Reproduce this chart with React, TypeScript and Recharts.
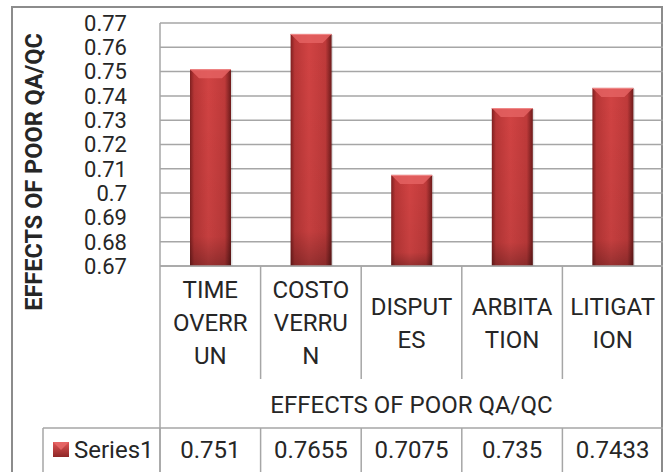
import React from "react";
import { BarChart, Bar, XAxis, YAxis, CartesianGrid } from "recharts";

const categories = ["TIME OVERRUN", "COSTOVERRUN", "DISPUTES", "ARBITATION", "LITIGATION"];
const categoryLines = [
  ["TIME", "OVERR", "UN"],
  ["COSTO", "VERRU", "N"],
  ["DISPUT", "ES"],
  ["ARBITA", "TION"],
  ["LITIGAT", "ION"],
];
const series1 = [0.751, 0.7655, 0.7075, 0.735, 0.7433];
const series1Labels = ["0.751", "0.7655", "0.7075", "0.735", "0.7433"];
const yTicks = [0.67, 0.68, 0.69, 0.7, 0.71, 0.72, 0.73, 0.74, 0.75, 0.76, 0.77];
const seriesName = "Series1";
const axisTitle = "EFFECTS OF POOR QA/QC";

const data = categories.map((name, i) => ({ name, value: series1[i] }));

const W = 669;
const H = 472;
const LEFT = 160;
const RIGHT = 6;
const TOP = 23;
const AXIS_H = 206;
const FONT = "Roboto, 'Liberation Sans', sans-serif";
const LINE = "#a6a6a6";
const TEXT = "#262626";
const bandW = (W - LEFT - RIGHT) / categories.length;

const BarShape = (props: any) => {
  const { x, y, width, height, index } = props;
  const id = `barg${index}`;
  const bev = Math.min(9, height / 2);
  return (
    <g>
      <defs>
        <linearGradient id={id} x1="0" y1="0" x2="1" y2="0">
          <stop offset="0%" stopColor="#7e2020" />
          <stop offset="10%" stopColor="#b83636" />
          <stop offset="45%" stopColor="#d14343" />
          <stop offset="85%" stopColor="#bf3a3a" />
          <stop offset="100%" stopColor="#6e1b1b" />
        </linearGradient>
        <linearGradient id={id + "v"} x1="0" y1="0" x2="0" y2="1">
          <stop offset="0%" stopColor="#000" stopOpacity={0} />
          <stop offset="85%" stopColor="#000" stopOpacity={0.06} />
          <stop offset="100%" stopColor="#000" stopOpacity={0.28} />
        </linearGradient>
      </defs>
      <rect x={x + 1.5} y={y + 1} width={width} height={height} fill="#000" opacity={0.12} />
      <rect x={x} y={y} width={width} height={height} fill={`url(#${id})`} />
      <rect x={x} y={y} width={width} height={height} fill={`url(#${id + "v"})`} />
      <polygon
        points={`${x},${y} ${x + width},${y} ${x + width - bev},${y + bev} ${x + bev},${y + bev}`}
        fill="#e46262"
        opacity={0.85}
      />
      <line x1={x} y1={y + 0.5} x2={x + width} y2={y + 0.5} stroke="#f08a8a" />
    </g>
  );
};

const XTick = (props: any) => {
  const { x, y, payload } = props;
  const i = payload.index;
  const lines = categoryLines[i];
  const cy = y + 57;
  const start = cy - ((lines.length - 1) * 33) / 2;
  const right = x + bandW / 2;
  return (
    <g>
      {lines.map((t, k) => (
        <text
          key={k}
          x={x}
          y={start + k * 33}
          textAnchor="middle"
          dominantBaseline="central"
          fontFamily={FONT}
          fontSize={24}
          fill={TEXT}
        >
          {t}
        </text>
      ))}
      {i < categories.length - 1 && <line x1={right} y1={y} x2={right} y2={y + 113} stroke={LINE} strokeWidth={1.5} />}
      <line x1={x - bandW / 2} y1={y + 162} x2={x - bandW / 2} y2={H} stroke={LINE} strokeWidth={1.5} />
      <text x={x} y={y + 184} textAnchor="middle" dominantBaseline="central" fontFamily={FONT} fontSize={24} fill={TEXT}>
        {series1Labels[i]}
      </text>
    </g>
  );
};

const TableLabel = (props: any) => {
  const { viewBox } = props;
  const { x, y, width } = viewBox;
  return (
    <g>
      <text
        x={x + width / 2}
        y={y + 139}
        textAnchor="middle"
        dominantBaseline="central"
        fontFamily={FONT}
        fontSize={24}
        fill={TEXT}
      >
        {axisTitle}
      </text>
      <line x1={x} y1={y} x2={x} y2={H} stroke={LINE} strokeWidth={1.5} />
      <line x1={43} y1={y + 162} x2={x + width} y2={y + 162} stroke={LINE} strokeWidth={1.5} />
      <line x1={43} y1={y + 162} x2={43} y2={H} stroke={LINE} strokeWidth={1.5} />
      <defs>
        <linearGradient id="legsq" x1="0" y1="0" x2="0" y2="1">
          <stop offset="0%" stopColor="#e05555" />
          <stop offset="100%" stopColor="#8e2626" />
        </linearGradient>
      </defs>
      <rect x={53} y={y + 176} width={16} height={15} fill="url(#legsq)" />
      <polygon points={`53,${y + 176} 69,${y + 176} 61,${y + 184}`} fill="#e86a6a" opacity={0.8} />
      <text x={74} y={y + 184} dominantBaseline="central" fontFamily={FONT} fontSize={24} fill={TEXT}>
        {seriesName}
      </text>
    </g>
  );
};

const YTitle = () => {
  const cx = 34;
  const cy = 172;
  return (
    <text
      x={cx}
      y={cy}
      transform={`rotate(-90, ${cx}, ${cy})`}
      textAnchor="middle"
      dominantBaseline="central"
      fontFamily={FONT}
      fontSize={23.5}
      fontWeight="bold"
      fill={TEXT}
    >
      {axisTitle}
    </text>
  );
};

export default function App() {
  return (
    <div style={{ position: "absolute", left: 0, top: 0, width: W, height: H, background: "#fff", overflow: "hidden" }}>
      <div
        style={{
          position: "absolute",
          left: 11,
          top: 6,
          width: 663 - 11,
          height: H,
          border: "2px solid #8c8c8c",
          boxSizing: "border-box",
        }}
      />
      <div style={{ position: "absolute", left: 0, top: 0 }}>
        <BarChart width={W} height={H} data={data} margin={{ top: TOP, right: RIGHT, bottom: 0, left: 0 }}>
          <CartesianGrid vertical={false} stroke={LINE} strokeWidth={1.5} />
          <XAxis
            dataKey="name"
            height={AXIS_H}
            interval={0}
            tickLine={false}
            tickSize={0}
            tickMargin={0}
            axisLine={{ stroke: LINE, strokeWidth: 1.5 }}
            tick={<XTick />}
            label={<TableLabel />}
          />
          <YAxis
            width={LEFT}
            domain={[0.67, 0.77]}
            ticks={yTicks}
            interval={0}
            allowDataOverflow
            tickLine={false}
            axisLine={{ stroke: LINE, strokeWidth: 1.5 }}
            tickMargin={27}
            tick={{ fontFamily: FONT, fontSize: 22, fill: TEXT }}
            label={<YTitle />}
          />
          <Bar dataKey="value" barSize={41} shape={<BarShape />} isAnimationActive={false} />
        </BarChart>
      </div>
    </div>
  );
}
